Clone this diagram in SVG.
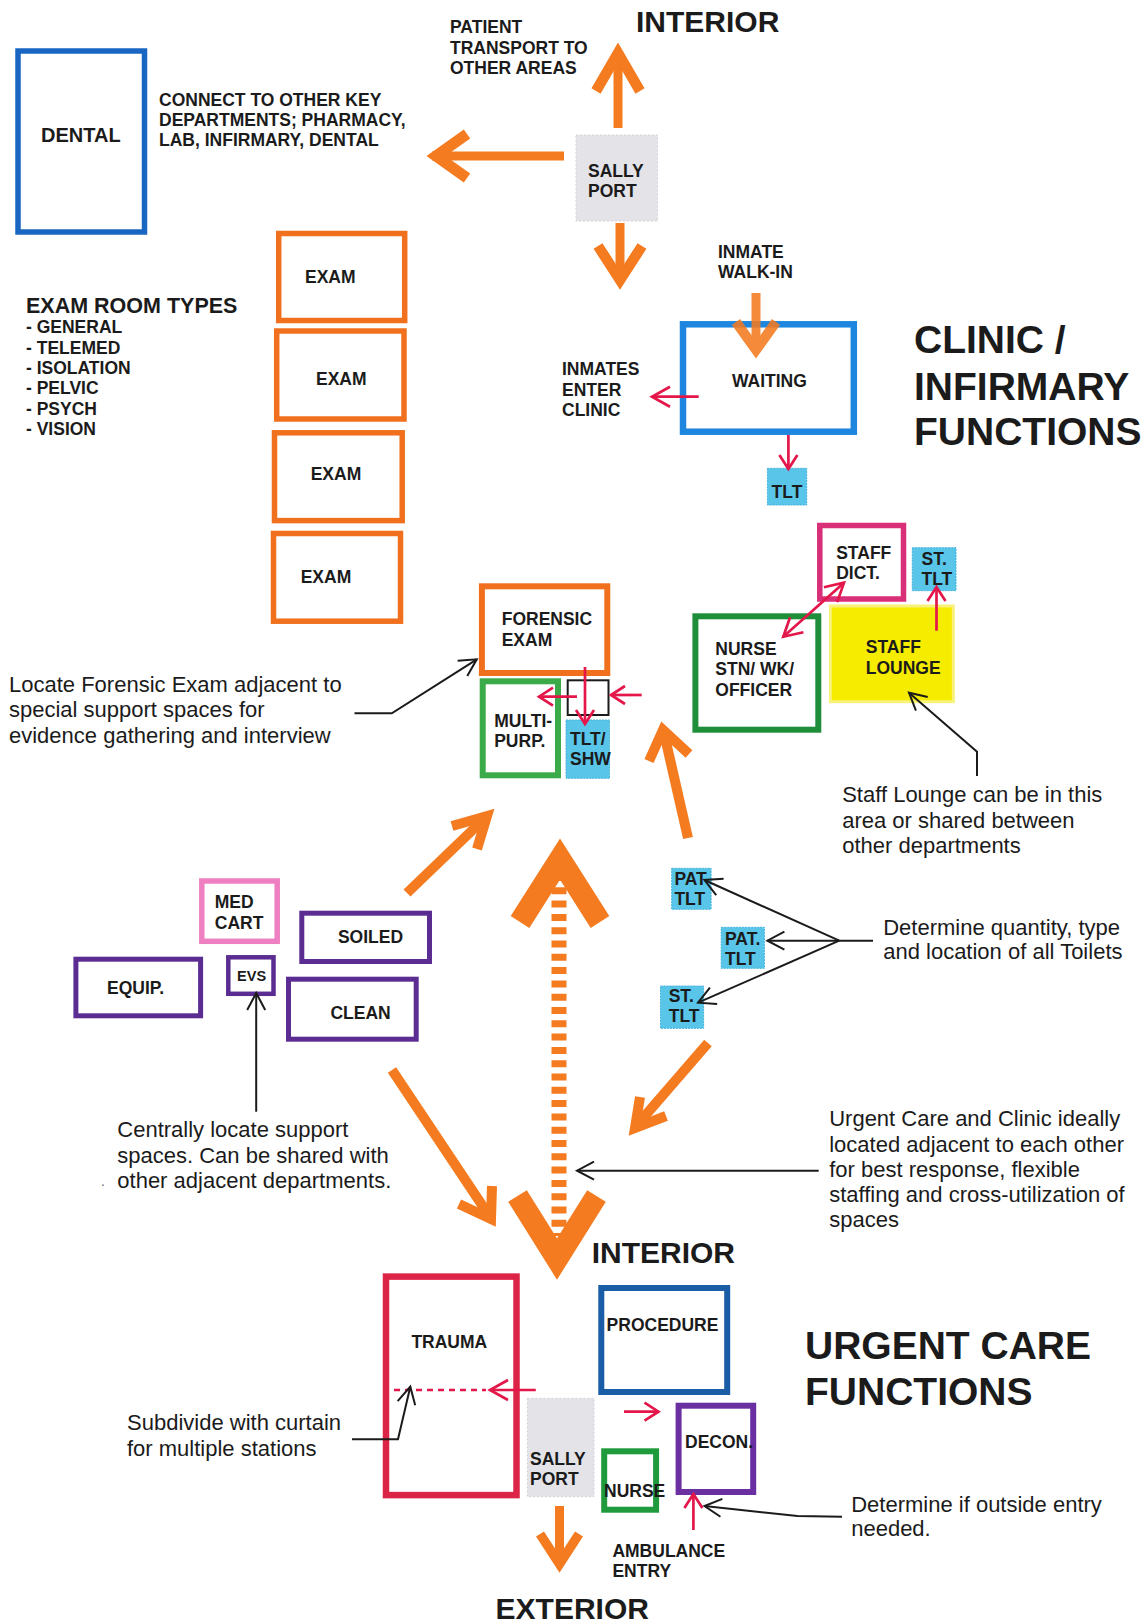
<svg xmlns="http://www.w3.org/2000/svg" width="1148" height="1623" viewBox="0 0 1148 1623">
<style>
text{font-family:"Liberation Sans",Arial,sans-serif;fill:#1b1b1b}
.lb{font-weight:bold;font-size:17.5px}
.an{font-size:22px}
.tt{font-weight:bold;font-size:39px}
.dr{font-weight:bold;font-size:30px}
.bx{fill:#fff;stroke-linejoin:miter}
.or{stroke:#f0701e}
.cy{fill:#58c5e9;stroke:#44b3da;stroke-width:1;stroke-dasharray:2 1}
.sp{fill:#e4e4e8;stroke:#d2d2d8;stroke-width:1;stroke-dasharray:2 2}
.pu{stroke:#5b2d92}
.oa{fill:none;stroke:#f47b20;stroke-linejoin:miter;stroke-linecap:butt}
.ra{fill:none;stroke:#e3174a;stroke-width:2.7}
.ba{fill:none;stroke:#1b1b1b;stroke-width:2}
</style>
<defs>
<marker id="rh" markerUnits="userSpaceOnUse" viewBox="-24 -14 28 28" refX="0" refY="0" markerWidth="28" markerHeight="28" orient="auto-start-reverse" overflow="visible">
<path d="M-18,-10 L0,0 L-18,10" fill="none" stroke="#e3174a" stroke-width="2.7"/>
</marker>
<marker id="rhs" markerUnits="userSpaceOnUse" viewBox="-24 -14 28 28" refX="0" refY="0" markerWidth="28" markerHeight="28" orient="auto" overflow="visible">
<path d="M-14,-9 L0,0 L-14,9" fill="none" stroke="#e3174a" stroke-width="2.7"/>
</marker>
<marker id="bh" markerUnits="userSpaceOnUse" viewBox="-24 -14 28 28" refX="0" refY="0" markerWidth="28" markerHeight="28" orient="auto" overflow="visible">
<path d="M-17,-9 L0,0 L-17,9" fill="none" stroke="#1b1b1b" stroke-width="2"/>
</marker>
</defs>
<rect width="1148" height="1623" fill="#fff"/>

<!-- Titles and free labels -->
<g id="titles">
<text class="dr" x="636" y="31.7">INTERIOR</text>
<text class="tt" x="914" y="353">CLINIC /</text>
<text class="tt" x="914" y="400">INFIRMARY</text>
<text class="tt" x="914" y="445">FUNCTIONS</text>
<text class="dr" x="591.7" y="1263.3">INTERIOR</text>
<text class="tt" x="805" y="1359.3">URGENT CARE</text>
<text class="tt" x="805" y="1405">FUNCTIONS</text>
<text class="dr" x="495.6" y="1619.3">EXTERIOR</text>
</g>
<g id="notes">
<text class="lb"><tspan x="159" y="106">CONNECT TO OTHER KEY</tspan><tspan x="159" y="126">DEPARTMENTS; PHARMACY,</tspan><tspan x="159" y="146">LAB, INFIRMARY, DENTAL</tspan></text>
<text class="lb"><tspan x="450" y="33.3">PATIENT</tspan><tspan x="450" y="54">TRANSPORT TO</tspan><tspan x="450" y="74">OTHER AREAS</tspan></text>
<text class="lb"><tspan x="718" y="258.3">INMATE</tspan><tspan x="718" y="278.3">WALK-IN</tspan></text>
<text class="lb"><tspan x="562" y="375">INMATES</tspan><tspan x="562" y="395.7">ENTER</tspan><tspan x="562" y="416">CLINIC</tspan></text>
<text class="lb" x="26" y="313.3" style="font-size:21.5px">EXAM ROOM TYPES</text>
<text class="lb"><tspan x="26" y="333.3">- GENERAL</tspan><tspan x="26" y="354">- TELEMED</tspan><tspan x="26" y="374">- ISOLATION</tspan><tspan x="26" y="394.3">- PELVIC</tspan><tspan x="26" y="415">- PSYCH</tspan><tspan x="26" y="435">- VISION</tspan></text>
<text class="an"><tspan x="9" y="691.7">Locate Forensic Exam adjacent to</tspan><tspan x="9" y="717.3">special support spaces for</tspan><tspan x="9" y="743.3">evidence gathering and interview</tspan></text>
<text class="an"><tspan x="842.2" y="801.7">Staff Lounge can be in this</tspan><tspan x="842.2" y="827.7">area or shared between</tspan><tspan x="842.2" y="852.7">other departments</tspan></text>
<text class="an"><tspan x="883.2" y="935">Determine quantity, type</tspan><tspan x="883.2" y="959.3">and location of all Toilets</tspan></text>
<text class="an"><tspan x="117.3" y="1136.7">Centrally locate support</tspan><tspan x="117.3" y="1162.7">spaces. Can be shared with</tspan><tspan x="117.3" y="1188.3">other adjacent departments.</tspan></text>
<text class="an" x="101" y="1186" style="font-size:14px;fill:#666">.</text>
<text class="an"><tspan x="829.2" y="1126">Urgent Care and Clinic ideally</tspan><tspan x="829.2" y="1151.7">located adjacent to each other</tspan><tspan x="829.2" y="1176.7">for best response, flexible</tspan><tspan x="829.2" y="1201.7">staffing and cross-utilization of</tspan><tspan x="829.2" y="1226.7">spaces</tspan></text>
<text class="an"><tspan x="127" y="1430">Subdivide with curtain</tspan><tspan x="127" y="1456">for multiple stations</tspan></text>
<text class="an"><tspan x="851.2" y="1511.7">Determine if outside entry</tspan><tspan x="851.2" y="1536">needed.</tspan></text>
<text class="lb"><tspan x="612.4" y="1556.7">AMBULANCE</tspan><tspan x="612.4" y="1577.3">ENTRY</tspan></text>
</g>

<!-- Nodes -->
<g id="dental"><rect class="bx" x="18" y="51" width="126.5" height="181" stroke="#1866c2" stroke-width="5.5"/><text class="lb" x="41" y="141.7" style="font-size:20px">DENTAL</text></g>
<g id="sallyport-top"><rect class="sp" x="576" y="135" width="81.5" height="86"/><text class="lb"><tspan x="588" y="176.7">SALLY</tspan><tspan x="588" y="197.3">PORT</tspan></text></g>
<g id="exam1"><rect class="bx or" x="278.7" y="233.5" width="126" height="87" stroke-width="5.5"/><text class="lb" x="305" y="283.3">EXAM</text></g>
<g id="exam2"><rect class="bx or" x="276.7" y="331" width="127.3" height="88" stroke-width="5.5"/><text class="lb" x="316" y="385">EXAM</text></g>
<g id="exam3"><rect class="bx or" x="274.5" y="432.8" width="127.7" height="87.8" stroke-width="5.5"/><text class="lb" x="310.7" y="480">EXAM</text></g>
<g id="exam4"><rect class="bx or" x="273.5" y="533.5" width="127" height="87.7" stroke-width="5.5"/><text class="lb" x="300.7" y="583.3">EXAM</text></g>
<g id="waiting"><rect class="bx" x="683" y="324.3" width="170.8" height="107.4" stroke="#1e86de" stroke-width="6.5"/><text class="lb" x="732" y="387">WAITING</text></g>
<g id="tlt-waiting"><rect class="cy" x="767.4" y="468.3" width="39.3" height="36.7"/><text class="lb" x="787" y="498" text-anchor="middle">TLT</text></g>
<g id="forensic"><rect class="bx or" x="481.9" y="586.3" width="125.4" height="86.7" stroke-width="6"/><text class="lb"><tspan x="501.7" y="625">FORENSIC</tspan><tspan x="501.7" y="646">EXAM</tspan></text></g>
<g id="multipurp"><rect class="bx" x="482.7" y="681.3" width="75.3" height="94" stroke="#3aab48" stroke-width="6"/><text class="lb"><tspan x="494.2" y="726.7">MULTI-</tspan><tspan x="494.2" y="746.7">PURP.</tspan></text></g>
<g id="vestibule"><rect class="bx" x="567.7" y="680.3" width="40.8" height="34.7" stroke="#1b1b1b" stroke-width="2"/></g>
<g id="tlt-shw"><rect class="cy" x="566" y="720" width="43.5" height="58.3"/><text class="lb"><tspan x="570" y="745">TLT/</tspan><tspan x="570" y="765">SHW</tspan></text></g>
<g id="staff-dict"><rect class="bx" x="819.8" y="525.5" width="83.7" height="73.5" stroke="#d82f78" stroke-width="5.5"/><text class="lb"><tspan x="836.2" y="559.3">STAFF</tspan><tspan x="836.2" y="579.3">DICT.</tspan></text></g>
<g id="st-tlt-top"><rect class="cy" x="912.3" y="547.7" width="43.7" height="43"/><text class="lb"><tspan x="921.5" y="565">ST.</tspan><tspan x="921.5" y="585">TLT</tspan></text></g>
<g id="nurse-station"><rect class="bx" x="695.4" y="616.3" width="122.9" height="113.4" stroke="#1f8e3a" stroke-width="6"/><text class="lb"><tspan x="715.3" y="655">NURSE</tspan><tspan x="715.3" y="675">STN/ WK/</tspan><tspan x="715.3" y="696">OFFICER</tspan></text></g>
<g id="staff-lounge"><rect x="830.4" y="606" width="122.9" height="95.7" fill="#f5ec00" stroke="#f8f27a" stroke-width="3"/><text class="lb"><tspan x="865.8" y="653.3">STAFF</tspan><tspan x="865.8" y="674">LOUNGE</tspan></text></g>
<g id="med-cart"><rect class="bx" x="201.8" y="881" width="75.4" height="60.3" stroke="#ee7fc0" stroke-width="5.5"/><text class="lb"><tspan x="214.8" y="908.3">MED</tspan><tspan x="214.8" y="929.3">CART</tspan></text></g>
<g id="soiled"><rect class="bx pu" x="301.8" y="913.2" width="127.7" height="48.3" stroke-width="5"/><text class="lb" x="337.9" y="942.7">SOILED</text></g>
<g id="equip"><rect class="bx pu" x="75.9" y="959.2" width="124.7" height="56.6" stroke-width="5"/><text class="lb" x="107" y="994.3">EQUIP.</text></g>
<g id="evs"><rect class="bx pu" x="228.3" y="957.3" width="45.2" height="36.5" stroke-width="4.5"/><text class="lb" x="237.1" y="980.7" style="font-size:14.5px">EVS</text></g>
<g id="clean"><rect class="bx pu" x="288.5" y="979.2" width="127.7" height="60" stroke-width="5"/><text class="lb" x="330.4" y="1019.3">CLEAN</text></g>
<g id="pat-tlt-1"><rect class="cy" x="671.7" y="868.3" width="39.4" height="41"/><text class="lb"><tspan x="674.4" y="885">PAT</tspan><tspan x="674.4" y="905">TLT</tspan></text></g>
<g id="pat-tlt-2"><rect class="cy" x="721.2" y="927.3" width="43.2" height="41"/><text class="lb"><tspan x="725" y="945">PAT.</tspan><tspan x="725" y="965">TLT</tspan></text></g>
<g id="st-tlt-2"><rect class="cy" x="660.5" y="986" width="43.1" height="42.3"/><text class="lb"><tspan x="668.7" y="1001.7">ST.</tspan><tspan x="668.7" y="1021.7">TLT</tspan></text></g>
<g id="trauma"><rect class="bx" x="386" y="1276.6" width="130.5" height="218.5" stroke="#dc2447" stroke-width="6.5"/><text class="lb" x="411.4" y="1348.3">TRAUMA</text></g>
<g id="procedure"><rect class="bx" x="601.3" y="1288" width="125.9" height="104" stroke="#1b5ca6" stroke-width="6"/><text class="lb" x="606.6" y="1330.7">PROCEDURE</text></g>
<g id="sallyport-bottom"><rect class="sp" x="527.4" y="1398.3" width="66.6" height="98.4"/><text class="lb"><tspan x="530" y="1465">SALLY</tspan><tspan x="530" y="1485">PORT</tspan></text></g>
<g id="decon"><rect class="bx" x="678.6" y="1405.7" width="74.6" height="86.3" stroke="#6a2fa0" stroke-width="6"/><text class="lb" x="685" y="1448.3">DECON.</text></g>
<g id="nurse"><rect class="bx" x="604.2" y="1451.3" width="51.9" height="58.4" stroke="#1f9a3c" stroke-width="6"/><text class="lb" x="604" y="1496.7">NURSE</text></g>

<!-- Connectors -->
<g id="connectors">
<!-- orange flow arrows -->
<path class="oa" d="M564,156 H432" stroke-width="9"/>
<polyline class="oa" points="467,134 436,156 467,178" stroke-width="11"/>
<path class="oa" d="M618,128 V58" stroke-width="9"/>
<polyline class="oa" points="596,91 618,53 640,91" stroke-width="10.5"/>
<path class="oa" d="M620,223 V275" stroke-width="9"/>
<polyline class="oa" points="598,246 620,280 642,246" stroke-width="10.5"/>
<g opacity="0.88">
<path class="oa" d="M756,293 V345" stroke-width="9"/>
<polyline class="oa" points="736,322 756,350 776,322" stroke-width="10"/>
</g>
<path class="oa" d="M407,893 L484,819" stroke-width="10"/>
<polyline class="oa" points="452,826 487,816 477,849" stroke-width="10"/>
<path class="oa" d="M688,838 L664,733" stroke-width="10"/>
<polyline class="oa" points="649,761 663,730 689,754" stroke-width="10"/>
<path class="oa" d="M708,1043 L637,1125" stroke-width="10"/>
<polyline class="oa" points="640,1097 635,1128 666,1116" stroke-width="10"/>
<path class="oa" d="M392,1070 L488,1214" stroke-width="10"/>
<polyline class="oa" points="459,1204 491,1219 492,1186" stroke-width="10"/>
<path class="oa" d="M559.5,1506 V1560" stroke-width="9"/>
<polyline class="oa" points="540,1534 559.5,1564 579,1534" stroke-width="9.5"/>
<!-- big two-way link -->
<path d="M559,874 V1236" fill="none" stroke="#f47b20" stroke-width="15" stroke-dasharray="7 6.3"/>
<polyline class="oa" points="520,922 560,859 600,922" stroke-width="22"/>
<polyline class="oa" points="517.5,1196 557,1259 596.5,1196" stroke-width="22"/>
<!-- red adjacency arrows -->
<path class="ra" d="M698.7,396.7 H652" marker-end="url(#rh)"/>
<path class="ra" d="M788.4,435 V469" marker-end="url(#rhs)"/>
<path class="ra" d="M585,667 V724" marker-end="url(#rhs)"/>
<path class="ra" d="M577,696.7 H539" marker-end="url(#rhs)"/>
<path class="ra" d="M641.7,695 H611" marker-end="url(#rhs)"/>
<path class="ra" d="M783.3,636.7 L844,582.7" marker-start="url(#rh)" marker-end="url(#rh)"/>
<path class="ra" d="M936.5,630.7 V587" marker-end="url(#rhs)"/>
<path class="ra" d="M535.8,1390 H490" marker-end="url(#rh)"/>
<path class="ra" d="M394,1390 H486" stroke-dasharray="6 5"/>
<path class="ra" d="M624,1411.7 H658.5" marker-end="url(#rhs)"/>
<path class="ra" d="M693.4,1530 V1494" marker-end="url(#rhs)"/>
<!-- black annotation leaders -->
<polyline class="ba" points="354.5,713.3 391.8,713.3 476.8,659.3" marker-end="url(#bh)"/>
<polyline class="ba" points="977,776 977,751.7 909,692.7" marker-end="url(#bh)"/>
<path class="ba" d="M256.2,1111.7 V993" marker-end="url(#bh)"/>
<path class="ba" d="M839.3,940.7 L704.4,880" marker-end="url(#bh)"/>
<path class="ba" d="M873,940.7 H767.4" marker-end="url(#bh)"/>
<path class="ba" d="M839.3,940.7 L698,1002.7" marker-end="url(#bh)"/>
<path class="ba" d="M818.7,1170.7 H577" marker-end="url(#bh)"/>
<polyline class="ba" points="352,1439.3 398,1439.3 410.3,1386.7" marker-end="url(#bh)"/>
<polyline class="ba" points="842,1516.7 797.5,1516 704.5,1506" marker-end="url(#bh)"/>
</g>
</svg>
